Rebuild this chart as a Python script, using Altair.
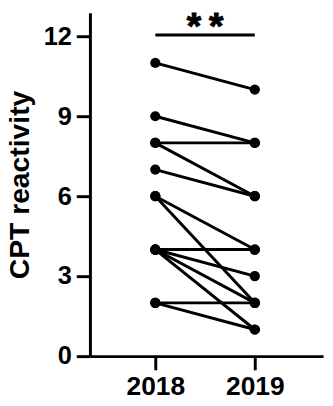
import altair as alt
import pandas as pd

years = [2018, 2019]
values_2018 = [11, 9, 8, 8, 7, 6, 6, 4, 4, 4, 4, 2, 2]
values_2019 = [10, 8, 8, 6, 6, 4, 2, 4, 3, 2, 1, 2, 1]
y_ticks = [0, 3, 6, 9, 12]
sig_label = "**"
sig_level = 12.05

rows = []
for i, (a, b) in enumerate(zip(values_2018, values_2019)):
    rows.append({"subject": i, "year": years[0], "value": a})
    rows.append({"subject": i, "year": years[1], "value": b})
df = pd.DataFrame(rows)

sig_df = pd.DataFrame({"x": [years[0]], "x2": [years[1]], "y": [sig_level],
                       "xm": [sum(years) / 2]})
star_df = pd.DataFrame({"xm": [sum(years) / 2] * len(sig_label),
                        "y": [sig_level] * len(sig_label),
                        "t": list(sig_label),
                        "k": list(range(len(sig_label)))})

FONT = "Liberation Sans"

x_scale = alt.Scale(domain=[2017.343, 2019.686], nice=False, zero=False)
y_scale = alt.Scale(domain=[0, 12.88], nice=False, zero=False)

x_axis = alt.Axis(values=years, format="d", title=None, grid=False,
                  labelFontSize=27, labelFont=FONT, labelFontWeight="bold",
                  labelColor="black", labelPadding=4, tickSize=14, tickWidth=3,
                  tickColor="black", domainWidth=3, domainColor="black",
                  labelFlush=False)
y_axis = alt.Axis(values=y_ticks, title="CPT reactivity", grid=False,
                  labelFontSize=26, labelFont=FONT, labelFontWeight="bold",
                  labelColor="black", labelPadding=5, tickSize=14, tickWidth=3,
                  tickColor="black", domainWidth=3, domainColor="black",
                  titleFontSize=29, titleFont=FONT, titleFontWeight="bold",
                  titleColor="black", titlePadding=9, labelFlush=False)

base = alt.Chart(df).encode(
    x=alt.X("year:Q", scale=x_scale, axis=x_axis),
    y=alt.Y("value:Q", scale=y_scale, axis=y_axis),
)

lines = base.mark_line(color="black", strokeWidth=3, clip=False).encode(detail="subject:N")
points = base.mark_point(filled=True, color="black", size=110, opacity=1, clip=False)

sig_rule = alt.Chart(sig_df).mark_rule(color="black", strokeWidth=3).encode(
    x=alt.X("x:Q", scale=x_scale), x2="x2:Q", y=alt.Y("y:Q", scale=y_scale))

star_layers = []
for k, ch in enumerate(sig_label):
    off = (k - (len(sig_label) - 1) / 2) * 23
    star_layers.append(
        alt.Chart(star_df[star_df["k"] == k]).mark_text(
            font=FONT, fontSize=38, fontWeight="bold", color="black",
            stroke="black", strokeWidth=1,
            baseline="alphabetic", align="center", dx=off, dy=4
        ).encode(x=alt.X("xm:Q", scale=x_scale), y=alt.Y("y:Q", scale=y_scale), text="t:N")
    )

chart = alt.layer(lines, points, sig_rule, *star_layers).properties(
    width=239, height=352,
    autosize=alt.AutoSizeParams(type="none"),
    padding={"left": 84, "top": 0, "right": 2, "bottom": 40},
).configure_view(stroke=None)

chart.save("out.html", embed_options={"renderer": "svg", "actions": False})
